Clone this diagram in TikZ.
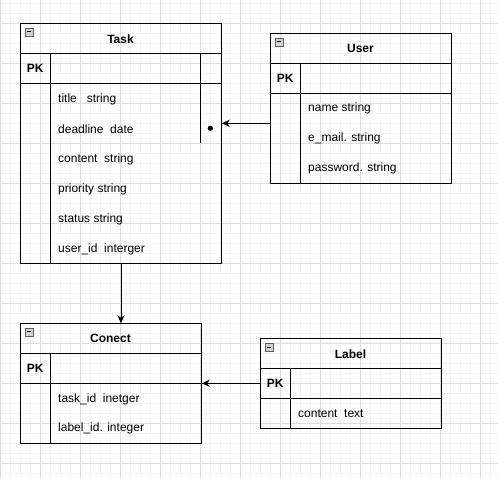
\documentclass[tikz,border=0pt]{standalone}
\usepackage{fontspec}
\setmainfont{Liberation Sans}
\usetikzlibrary{arrows.meta}
\definecolor{gridminor}{HTML}{F3F3F3}
\definecolor{gridmajor}{HTML}{DCDCDC}
\tikzset{
  tbl/.style={draw, line width=1pt, inner sep=0pt, anchor=north west},
  sep/.style={line width=1pt},
  fld/.style={anchor=west, inner sep=0pt, font=\fontsize{12}{14}\selectfont},
  ttl/.style={inner sep=0pt, font=\fontsize{12}{14}\selectfont\bfseries},
  pk/.style={inner sep=0pt, font=\fontsize{12}{14}\selectfont\bfseries},
  link/.style={line width=1pt, -{Stealth[length=8pt,width=7pt,inset=2.5pt]}},
  fold/.style={draw=gray!75!black, fill=gray!35, line width=0.6pt},
}
% collapse toggle in the corner of a table header
\newcommand{\foldmark}[2]{%
  \draw[fold] (#1,#2) rectangle ++(8,8);
  \draw[line width=1pt] (#1+2,#2+4) -- ++(4,0);
}
\begin{document}
\begin{tikzpicture}[x=1pt,y=-1pt]
\useasboundingbox (0,0) rectangle (498,478);
% background grid
\foreach \i in {0,...,49} \draw[gridminor, line width=0.8pt] (0.3+10*\i,0) -- (0.3+10*\i,478);
\foreach \j in {-2,...,47} \draw[gridminor, line width=0.8pt] (0,3.3+10*\j) -- (498,3.3+10*\j);
\foreach \i in {0,...,12} \draw[gridmajor, line width=0.8pt] (0.3+40*\i,0) -- (0.3+40*\i,478);
\foreach \j in {0,...,11} \draw[gridmajor, line width=0.8pt] (0,23.3+40*\j) -- (498,23.3+40*\j);

% ---------- Task ----------
\node[tbl, minimum width=200.4pt, minimum height=240pt] (task) at (20.3,23.3) {};
\draw[sep] (20.3,53.3) -- (220.7,53.3);
\draw[sep] (20.3,83.3) -- (220.7,83.3);
\draw[sep] (50.3,53.3) -- (50.3,263.3);
\draw[sep] (200.3,53.3) -- (200.3,143.3);
\foldmark{25}{28}
\node[ttl] (taskT) at (120.5,38.8) {Task};
\node[pk] (taskPK) at (35.3,68.8) {PK};
\node[fld] (t1) at (58,99) {title\ \ \ string};
\node[fld] (t2) at (58,129) {deadline\ \ date};
\node[fld] (t3) at (58,159) {content\ \ string};
\node[fld] (t4) at (58,189) {priority string};
\node[fld] (t5) at (58,219) {status string};
\node[fld] (t6) at (58,249) {user\_id\ \ interger};
\fill (210.3,128.3) circle (2.6pt);

% ---------- User ----------
\node[tbl, minimum width=180.4pt, minimum height=149.4pt] (user) at (270.3,33.3) {};
\draw[sep] (270.3,63.3) -- (450.7,63.3);
\draw[sep] (270.3,93.3) -- (450.7,93.3);
\draw[sep] (300.3,63.3) -- (300.3,182.7);
\foldmark{275}{38}
\node[ttl] (userT) at (360.5,48.8) {User};
\node[pk] (userPK) at (285.3,78.8) {PK};
\node[fld] (u1) at (308,108.5) {name string};
\node[fld] (u2) at (308,138.5) {e\_mail. string};
\node[fld] (u3) at (308,168.5) {password. string};

% ---------- Conect ----------
\node[tbl, minimum width=180.4pt, minimum height=120pt] (conect) at (20.3,323.3) {};
\draw[sep] (20.3,353.3) -- (200.7,353.3);
\draw[sep] (20.3,383.3) -- (200.7,383.3);
\draw[sep] (50.3,353.3) -- (50.3,443.3);
\foldmark{25}{328}
\node[ttl] (conectT) at (110.5,338.8) {Conect};
\node[pk] (conectPK) at (35.3,368.8) {PK};
\node[fld] (c1) at (58,399) {task\_id\ \ inetger};
\node[fld] (c2) at (58,428.5) {label\_id. integer};

% ---------- Label ----------
\node[tbl, minimum width=180.4pt, minimum height=90pt] (label) at (260.3,338.3) {};
\draw[sep] (260.3,368.3) -- (440.7,368.3);
\draw[sep] (260.3,398.3) -- (440.7,398.3);
\draw[sep] (290.3,368.3) -- (290.3,428.3);
\foldmark{265}{343}
\node[ttl] (labelT) at (350.5,353.8) {Label};
\node[pk] (labelPK) at (275.3,383.8) {PK};
\node[fld] (l1) at (298,413.5) {content\ \ text};

% ---------- relations ----------
\coordinate (userOut) at (user.west |- 0,123.3);
\coordinate (taskIn) at (task.east |- 0,123.3);
\draw[link] (userOut) -- (taskIn);
\coordinate (conectIn) at (task.south -| 120.5,0);
\draw[link] (task.south) -- (task.south |- conect.north);
\coordinate (labelOut) at (label.west |- 0,383.3);
\coordinate (conectSide) at (conect.east |- 0,383.3);
\draw[link] (labelOut) -- (conectSide);
\end{tikzpicture}
\end{document}
